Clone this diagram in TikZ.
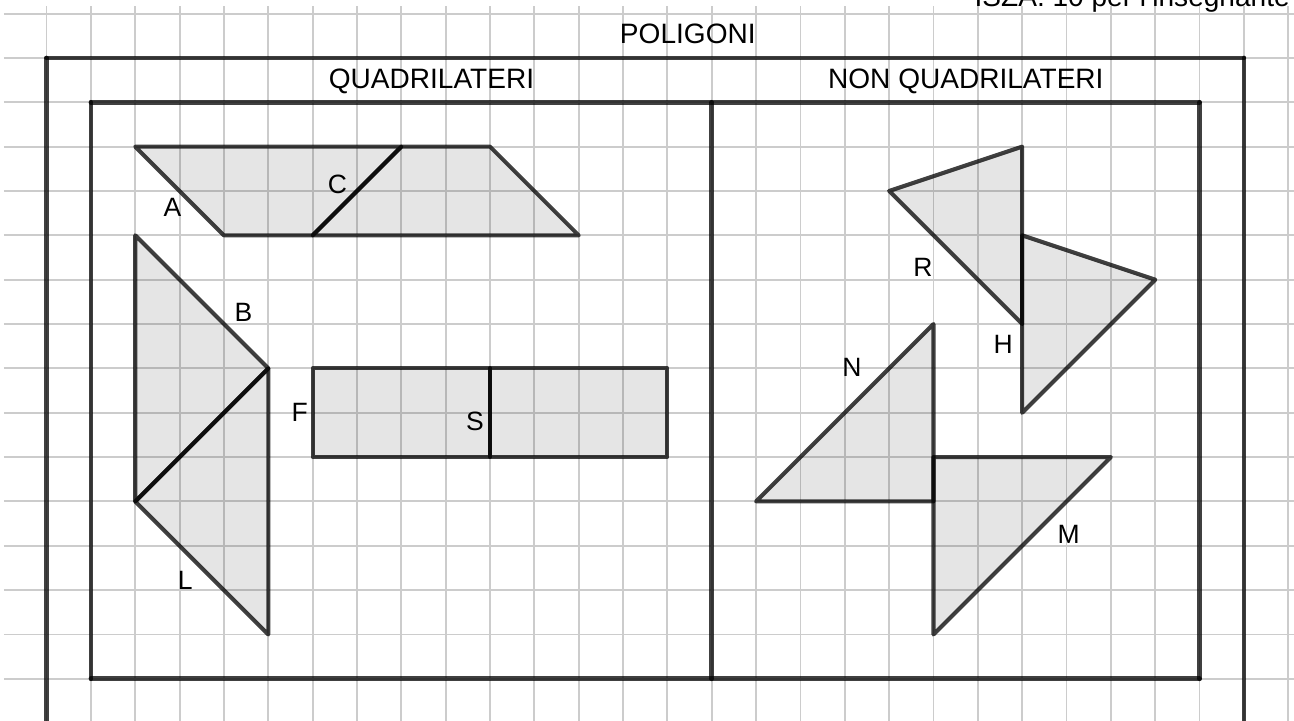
\documentclass[tikz,border=0pt]{standalone}
\usepackage{fontspec}
\setmainfont{Liberation Sans}

\begin{document}
\begin{tikzpicture}[x=1cm,y=1cm,
  gridline/.style={line width=1.2pt, draw=gray!40},
  box/.style={line width=3pt, draw=black, draw opacity=0.75, line cap=round},
  poly/.style={line width=2.6pt, draw=black, draw opacity=0.75, fill=black, fill opacity=0.1, line join=round, line cap=round},
  lbl/.style={font=\fontsize{17}{20}\selectfont, inner sep=0pt},
  title/.style={font=\fontsize{18}{21}\selectfont, inner sep=0pt, anchor=base}]
\useasboundingbox (-0.05,-15.93) rectangle (29.13,0.307);
\clip (-0.05,-15.93) rectangle (29.13,0.307);

% squared paper
\foreach \j in {0,...,15}
  \draw[gridline] (0.04,-\j) -- (29.3,-\j);
\foreach \i in {1,...,29}
  \draw[gridline] (\i,0.17) -- (\i,-16);

% header, cut at the top of the sheet
\node (head) [font=\fontsize{18}{21}\selectfont, inner sep=0pt, anchor=base east] at (29.04,0.17) {ISZA. 10 per l'insegnante};

% sets
\draw[box] (1,-16) -- (1,-1);
\draw[box] (1,-1) -- (28,-1);
\draw[box] (28,-1) -- (28,-16);
\draw[box] (2,-2) -- (27,-2);
\draw[box] (27,-2) -- (27,-15);
\draw[box] (27,-15) -- (2,-15);
\draw[box] (2,-15) -- (2,-2);
\draw[box] (16,-2) -- (16,-15);

\node (poligoni) [title] at (15.46,-0.663) {POLIGONI};
\node (quad) [title] at (9.68,-1.678) {QUADRILATERI};
\node (nonquad) [title] at (21.73,-1.678) {NON QUADRILATERI};

% quadrilaterals
\draw[poly] (3,-3) -- (9,-3) -- (7,-5) -- (5,-5) -- cycle;
\draw[poly] (7,-5) -- (9,-3) -- (11,-3) -- (13,-5) -- cycle;
\draw[poly] (3,-5) -- (6,-8) -- (3,-11) -- cycle;
\draw[poly] (3,-11) -- (6,-8) -- (6,-14) -- cycle;
\draw[poly] (7,-8) rectangle (11,-10);
\draw[poly] (11,-8) rectangle (15,-10);

% not quadrilaterals
\draw[poly] (20,-4) -- (23,-3) -- (23,-7) -- cycle;
\draw[poly] (23,-5) -- (26,-6) -- (23,-9) -- cycle;
\draw[poly] (21,-7) -- (17,-11) -- (21,-11) -- cycle;
\draw[poly] (21,-10) -- (25,-10) -- (21,-14) -- cycle;

% names
\node (lA) [lbl] at (3.84,-4.37) {A};
\node (lC) [lbl] at (7.56,-3.86) {C};
\node (lB) [lbl] at (5.44,-6.74) {B};
\node (lL) [lbl] at (4.13,-12.79) {L};
\node (lF) [lbl] at (6.71,-9.0) {F};
\node (lS) [lbl] at (10.66,-9.19) {S};
\node (lR) [lbl] at (20.76,-5.72) {R};
\node (lH) [lbl] at (22.57,-7.46) {H};
\node (lN) [lbl] at (19.16,-7.97) {N};
\node (lM) [lbl] at (24.05,-11.75) {M};
\end{tikzpicture}
\end{document}
